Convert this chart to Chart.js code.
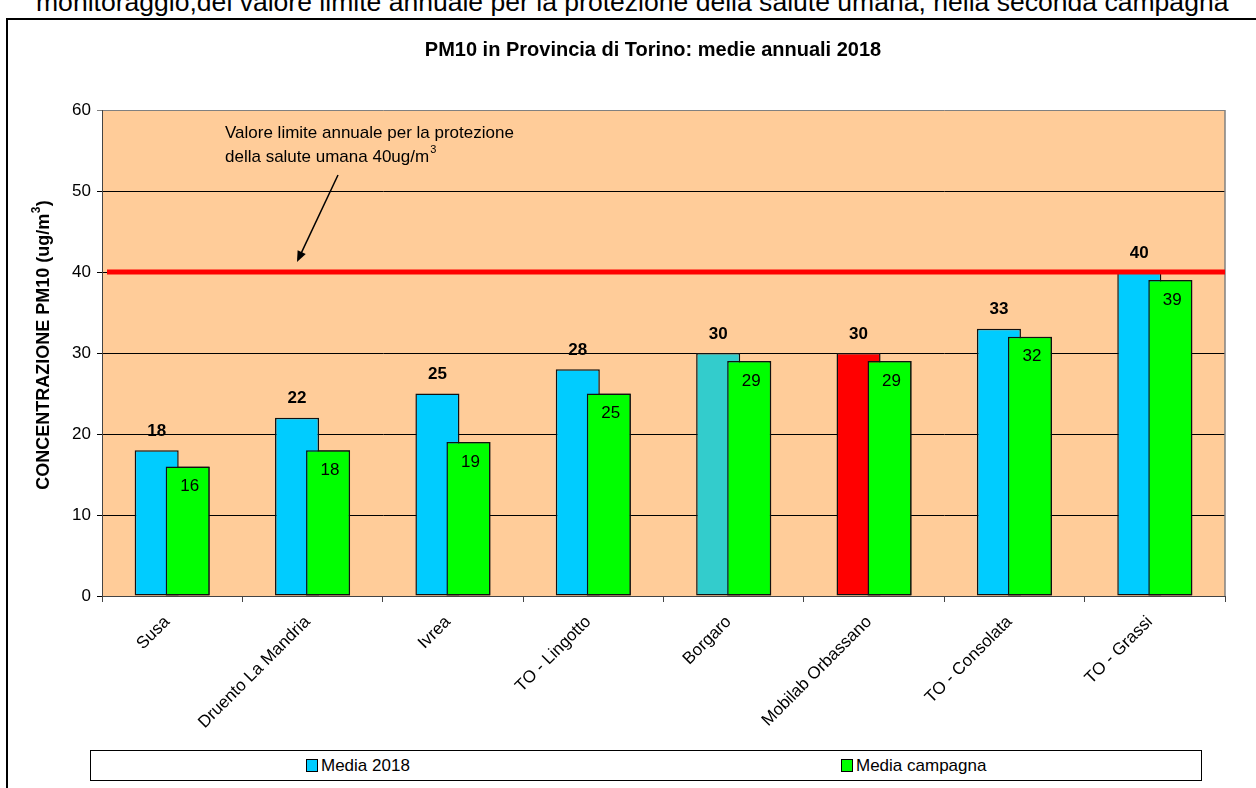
<!DOCTYPE html>
<html lang="it">
<head>
  <meta charset="UTF-8" />
  <title>PM10 in Provincia di Torino</title>
  <script src="https://cdn.jsdelivr.net/npm/chart.js"></script>
  <style>
    html, body { margin: 0; padding: 0; width: 1256px; height: 788px; overflow: hidden; background: #fff; }
    body { position: relative; font-family: "Liberation Sans", Arial, sans-serif; }
    .toptext {
      position: absolute; left: 36px; top: -4px;
      font-size: 20px; line-height: 1; white-space: nowrap;
    }
    .frame {
      position: absolute; left: 6px; top: 18px; width: 1300px; height: 900px;
      border: 2px solid #000;
    }
    .wrap { position: absolute; left: 0; top: 0; width: 1256px; height: 788px; }
    .legend {
      position: absolute; left: 90px; top: 750px; width: 1110px; height: 29px;
      border: 1px solid #000; background: #fff; font-size: 17px;
    }
    .legend span { position: absolute; top: 5px; }
    .legend i {
      display: inline-block; width: 10px; height: 11px; border: 1px solid #000;
      margin-right: 3px; vertical-align: -1px;
    }
  </style>
</head>
<body>
  <div class="toptext" id="topText">monitoraggio,del valore limite annuale per la protezione della salute umana, nella seconda campagna</div>
  <div class="frame"></div>
  <div class="wrap"><canvas id="pmChart"></canvas></div>
  <div class="legend">
    <span style="left:215px"><i style="background:#00CCFF"></i>Media 2018</span>
    <span style="left:750px"><i style="background:#00FF00"></i>Media campagna</span>
  </div>

  <script>
    // dati
    const stations = ["Susa", "Druento La Mandria", "Ivrea", "TO - Lingotto", "Borgaro", "Mobilab Orbassano", "TO - Consolata", "TO - Grassi"];
    const media2018 = [18, 22, 25, 28, 30, 30, 33, 40];
    const mediaCampagna = [16, 18, 19, 25, 29, 29, 32, 39];
    const yTicks = [0, 10, 20, 30, 40, 50, 60];
    const LIMITE = 40;

    const colori2018 = ["#00CCFF", "#00CCFF", "#00CCFF", "#00CCFF", "#33CCCC", "#FF0000", "#00CCFF", "#00CCFF"];
    const FONT = '"Liberation Sans", Arial, sans-serif';

    // riga di testo tagliata in alto: adatta la dimensione alla larghezza
    const tt = document.getElementById("topText");
    const size = 20 * 1193 / tt.getBoundingClientRect().width;
    tt.style.fontSize = size + "px";
    tt.style.top = (11 - 0.8465 * size) + "px";

    Chart.defaults.font.family = FONT;
    Chart.defaults.color = "#000";

    const extras = {
      id: "extras",
      beforeDraw(chart) {
        const { ctx, chartArea: a } = chart;
        ctx.save();
        ctx.fillStyle = "#FFCC99";
        ctx.fillRect(a.left, a.top, a.right - a.left, a.bottom - a.top);

        // titolo
        ctx.fillStyle = "#000";
        ctx.textAlign = "center";
        ctx.textBaseline = "middle";
        ctx.font = "bold 20px " + FONT;
        ctx.fillText("PM10 in Provincia di Torino: medie annuali 2018", 653, 50);

        // titolo asse y
        ctx.translate(44, 345);
        ctx.rotate(-Math.PI / 2);
        ctx.font = "bold 18px " + FONT;
        ctx.textAlign = "left";
        const main = "CONCENTRAZIONE PM10 (ug/m";
        const wMain = ctx.measureText(main).width;
        ctx.font = "bold 12px " + FONT;
        const wSup = ctx.measureText("3").width;
        ctx.font = "bold 18px " + FONT;
        const wEnd = ctx.measureText(")").width;
        const x0 = -(wMain + wSup + wEnd + 1) / 2;
        ctx.fillText(main, x0, 0);
        ctx.font = "bold 12px " + FONT;
        ctx.fillText("3", x0 + wMain + 0.5, -7);
        ctx.font = "bold 18px " + FONT;
        ctx.fillText(")", x0 + wMain + wSup + 1, 0);
        ctx.restore();
      },
      beforeDatasetsDraw(chart) {
        const { ctx, chartArea: a } = chart;
        ctx.save();
        ctx.strokeStyle = "#808080";
        ctx.lineWidth = 1.5;
        ctx.beginPath();
        ctx.moveTo(a.right, a.top);
        ctx.lineTo(a.right, a.bottom);
        ctx.stroke();
        ctx.restore();
      },
      afterDatasetsDraw(chart) {
        const { ctx, chartArea: a } = chart;
        const y = chart.scales.y;

        // verdi sopra le blu
        chart.getDatasetMeta(1).controller.draw();

        // linea del valore limite
        const yl = y.getPixelForValue(LIMITE);
        ctx.save();
        ctx.strokeStyle = "#FF0000";
        ctx.lineWidth = 5;
        ctx.beginPath();
        ctx.moveTo(a.left + 5, yl);
        ctx.lineTo(a.right, yl);
        ctx.stroke();

        // nota con freccia
        ctx.fillStyle = "#000";
        ctx.font = "17px " + FONT;
        ctx.textBaseline = "middle";
        ctx.textAlign = "left";
        const tx = a.left + 123;
        ctx.fillText("Valore limite annuale per la protezione", tx, 133);
        const riga2 = "della salute umana 40ug/m";
        ctx.fillText(riga2, tx, 157);
        const w = ctx.measureText(riga2).width;
        ctx.font = "11px " + FONT;
        ctx.fillText("3", tx + w + 1, 150);

        const x0 = 338, y0 = 175, x1 = 297, y1 = yl - 10;
        const ang = Math.atan2(y1 - y0, x1 - x0);
        ctx.strokeStyle = "#000";
        ctx.lineWidth = 1.5;
        ctx.beginPath();
        ctx.moveTo(x0, y0);
        ctx.lineTo(x1 - 6 * Math.cos(ang), y1 - 6 * Math.sin(ang));
        ctx.stroke();
        ctx.beginPath();
        ctx.moveTo(x1, y1);
        ctx.lineTo(x1 - 11 * Math.cos(ang) + 4.5 * Math.sin(ang), y1 - 11 * Math.sin(ang) - 4.5 * Math.cos(ang));
        ctx.lineTo(x1 - 11 * Math.cos(ang) - 4.5 * Math.sin(ang), y1 - 11 * Math.sin(ang) + 4.5 * Math.cos(ang));
        ctx.closePath();
        ctx.fill();

        // etichette dei valori
        ctx.textAlign = "center";
        ctx.font = "bold 17px " + FONT;
        chart.getDatasetMeta(0).data.forEach((el, i) => {
          ctx.fillText(media2018[i], el.x, el.y - 19);
        });
        ctx.font = "17px " + FONT;
        chart.getDatasetMeta(1).data.forEach((el, i) => {
          ctx.fillText(mediaCampagna[i], el.x + 2, el.y + 20);
        });
        ctx.restore();
      }
    };

    new Chart(document.getElementById("pmChart"), {
      type: "bar",
      data: {
        labels: stations,
        datasets: [
          {
            label: "Media 2018",
            data: media2018,
            backgroundColor: colori2018,
            borderColor: "#111",
            borderWidth: 1.5,
            borderSkipped: false,
            categoryPercentage: 0.442,
            barPercentage: 1.42
          },
          {
            label: "Media campagna",
            data: mediaCampagna,
            backgroundColor: "#00FF00",
            borderColor: "#111",
            borderWidth: 1.5,
            borderSkipped: false,
            categoryPercentage: 0.442,
            barPercentage: 1.42
          }
        ]
      },
      options: {
        responsive: true,
        maintainAspectRatio: false,
        animation: false,
        layout: { padding: { left: 30, right: 31, top: 110, bottom: 42 } },
        plugins: {
          legend: { display: false },
          tooltip: { enabled: false },
          title: { display: false }
        },
        scales: {
          x: {
            offset: true,
            grid: { offset: true, drawOnChartArea: false, tickLength: 6, color: "#444" },
            border: { color: "#444", width: 1 },
            ticks: { minRotation: 45, maxRotation: 45, autoSkip: false, padding: 10, labelOffset: -5, font: { size: 17 } },
            afterFit(s) { s.height = 150; }
          },
          y: {
            min: 0,
            max: 60,
            afterBuildTicks(s) { s.ticks = yTicks.map(v => ({ value: v })); },
            grid: {
              color: c => (c.tick && c.tick.value === 60 ? "#808080" : "#000"),
              tickLength: 5
            },
            border: { color: "#444", width: 1 },
            ticks: { padding: 6, font: { size: 17 } },
            afterFit(s) { s.width = 72; }
          }
        }
      },
      plugins: [extras]
    });
  </script>
</body>
</html>
